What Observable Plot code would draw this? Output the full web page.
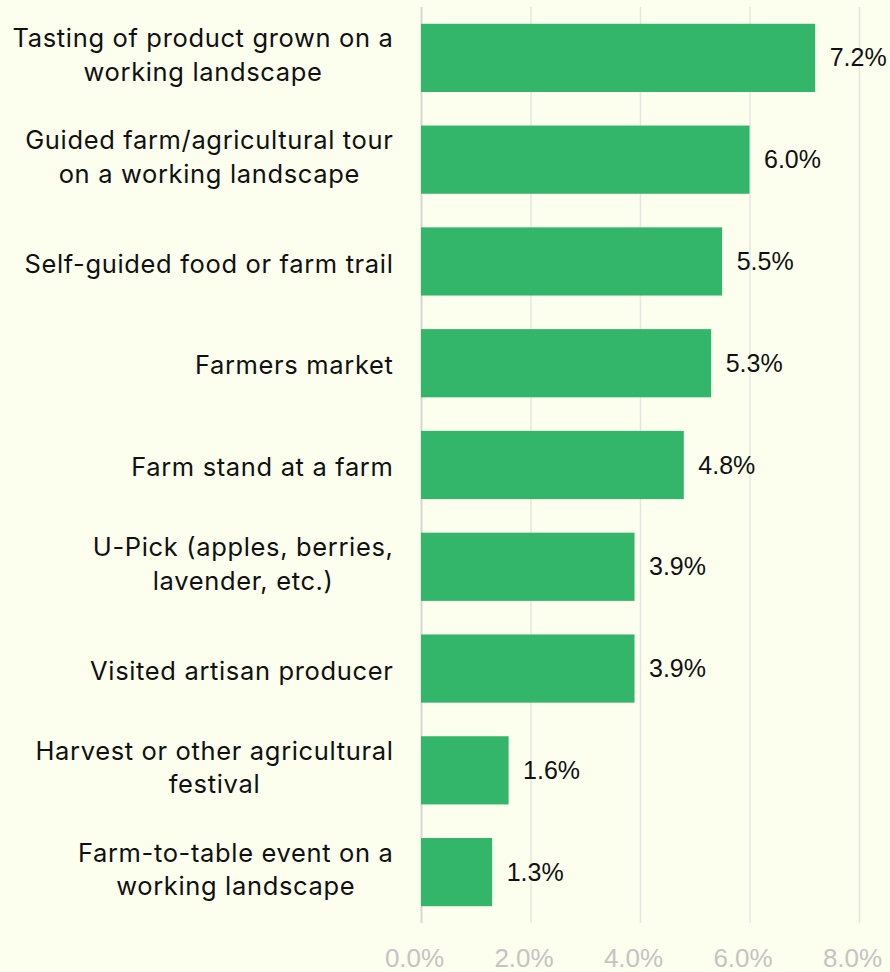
<!DOCTYPE html>
<html>
<head>
<meta charset="utf-8">
<script src="https://cdn.jsdelivr.net/npm/d3@7"></script>
<script src="https://cdn.jsdelivr.net/npm/@observablehq/plot@0.6"></script>
<style>
  html, body { margin: 0; padding: 0; background: #fcfeee; }
  #chart svg { display: block; }
</style>
</head>
<body>
<div id="chart"></div>
<script>
const categories = [
  "Tasting of product grown on a\nworking landscape",
  "Guided farm/agricultural tour\non a working landscape",
  "Self-guided food or farm trail",
  "Farmers market",
  "Farm stand at a farm",
  "U-Pick (apples, berries,\nlavender, etc.)",
  "Visited artisan producer",
  "Harvest or other agricultural\nfestival",
  "Farm-to-table event on a\nworking landscape"
];
const values = [7.2, 6.0, 5.5, 5.3, 4.8, 3.9, 3.9, 1.6, 1.3];
const xTicks = [0, 2, 4, 6, 8];

const data = categories.map((c, i) => ({category: c, value: values[i]}));

const LABEL_FONT = "25.5px Inter";
const LABEL_SPACING = 0.65;
const measureCtx = document.createElement("canvas").getContext("2d");
measureCtx.font = LABEL_FONT;
let canvasSpacing = false;
try { measureCtx.letterSpacing = LABEL_SPACING + "px"; canvasSpacing = measureCtx.letterSpacing === LABEL_SPACING + "px"; } catch (e) {}
function lineWidth(s) {
  const w = measureCtx.measureText(s).width;
  return canvasSpacing ? w : w + LABEL_SPACING * s.length;
}

// letter-spaced labels; multi-line labels centered within their block, block right-aligned
function centerLines(index, scales, values, dimensions, context, next) {
  const g = next(index, scales, values, dimensions, context);
  g.style.letterSpacing = LABEL_SPACING + "px";
  g.querySelectorAll("text").forEach(t => {
    const spans = t.querySelectorAll("tspan");
    if (spans.length > 1) {
      const W = Math.max(...Array.from(spans, s => lineWidth(s.textContent)));
      t.setAttribute("text-anchor", "middle");
      spans.forEach(s => s.setAttribute("x", String(-W / 2)));
      t.setAttribute("transform", (t.getAttribute("transform") || "") + " translate(0,-5)");
    }
  });
  return g;
}

const chart = Plot.plot({
  width: 890,
  height: 972,
  marginLeft: 421,
  marginRight: 31,
  marginTop: 7,
  marginBottom: 49,
  style: {background: "#fcfeee", overflow: "visible"},
  x: {domain: [0, 8], ticks: xTicks},
  y: {domain: categories, paddingInner: 0.33, paddingOuter: 0.165, round: false, axis: null},
  marks: [
    Plot.gridX(xTicks.filter(d => d > 0), {stroke: "#e6e6e0", strokeOpacity: 1, strokeWidth: 1.5}),
    Plot.ruleX([0], {stroke: "#d8d8d2", strokeWidth: 2}),
    Plot.barX(data, {x: "value", y: "category", fill: "#33b66a"}),
    Plot.text(data, {
      x: "value", y: "category",
      text: d => d.value.toFixed(1) + "%",
      textAnchor: "start", dx: 14,
      fontSize: 25, fill: "#111",
      fontFamily: "Liberation Sans, Arial, sans-serif"
    }),
    Plot.text(data, {
      y: "category", frameAnchor: "left", dx: -28,
      text: "category", textAnchor: "end", lineAnchor: "middle",
      fontSize: 25.5, lineHeight: 1.31,
      fontFamily: "Inter, sans-serif",
      fill: "#111",
      render: centerLines
    }),
    Plot.axisX(xTicks, {
      tickSize: 0, tickPadding: 25, dx: -7,
      tickFormat: d => d.toFixed(1) + "%",
      fontSize: 26, fill: "#c4c4c4",
      fontFamily: "Liberation Sans, Arial, sans-serif",
      label: null
    })
  ]
});
document.getElementById("chart").appendChild(chart);
</script>
</body>
</html>
